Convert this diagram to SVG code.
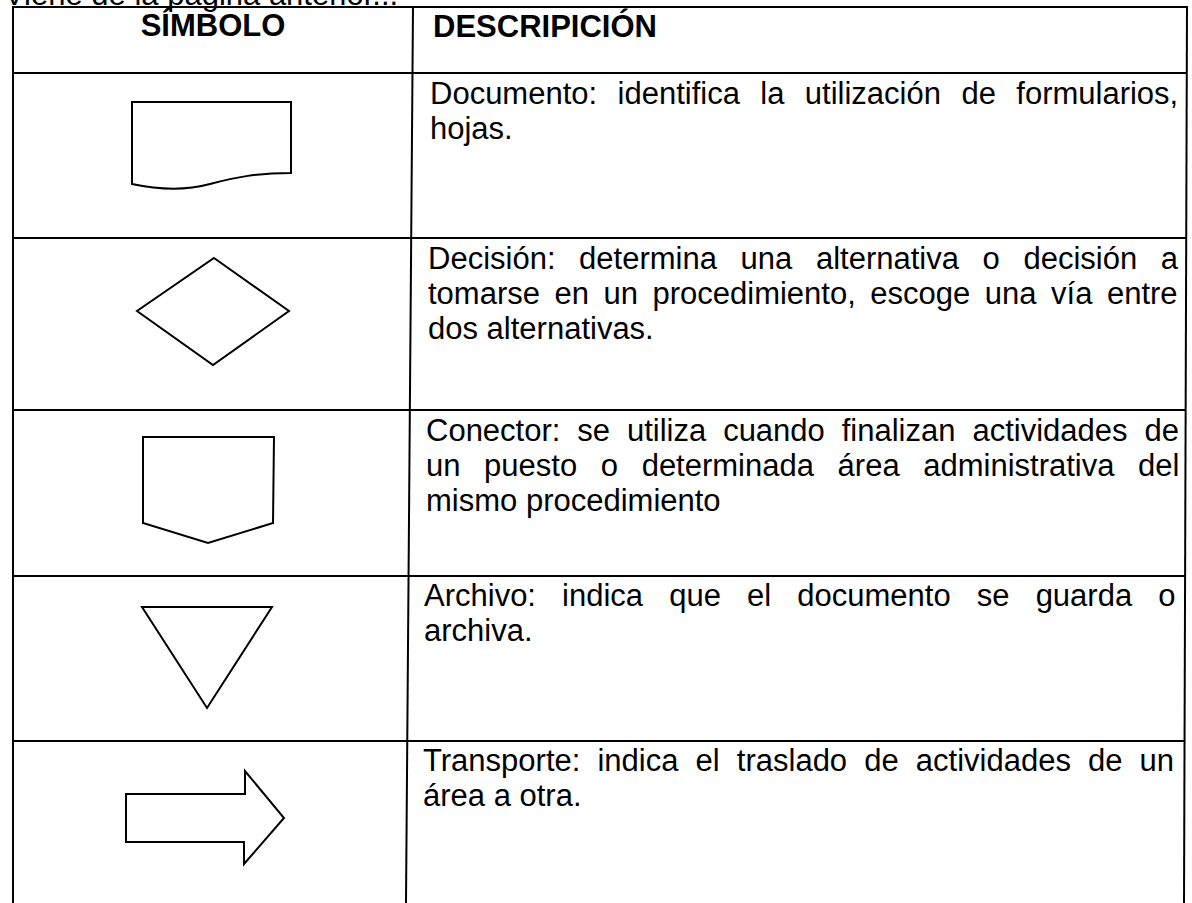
<svg xmlns="http://www.w3.org/2000/svg" width="1192" height="903" viewBox="0 0 1192 903">
<style>
.grid{stroke:#000;stroke-width:2;fill:none}
.shape{stroke:#000;stroke-width:2;fill:none;stroke-linejoin:miter}
.hd{font-family:"Liberation Sans",Arial,sans-serif;font-weight:bold;font-size:31px;fill:#000}
.tx{font-family:"Liberation Sans",Arial,sans-serif;font-size:31px;fill:#000}
</style>
<rect width="1192" height="903" fill="#fff"/>
<text class="tx" x="4" y="5" font-size="28">Viene de la página anterior...</text>
<g id="table">
<line class="grid" x1="13" y1="7" x2="1187" y2="7"/>
<line class="grid" x1="13" y1="73" x2="1187" y2="73"/>
<line class="grid" x1="13" y1="238" x2="1186" y2="238"/>
<line class="grid" x1="13" y1="410" x2="1186" y2="410"/>
<line class="grid" x1="13" y1="576" x2="1185" y2="576"/>
<line class="grid" x1="13" y1="741" x2="1185" y2="741"/>
<line class="grid" x1="13" y1="6" x2="13" y2="903"/>
<line class="grid" x1="413" y1="6" x2="406" y2="903"/>
<line class="grid" x1="1187" y1="6" x2="1184" y2="903"/>
</g>
<g id="header">
<text class="hd" x="213" y="36" text-anchor="middle">SÍMBOLO</text>
<text class="hd" x="433" y="37">DESCRIPICIÓN</text>
</g>
<g id="documento">
<path class="shape" d="M132,102 H291 V173 C258,173 236,177 210,184 C188,190 160,190 132,184 Z"/>
<text class="tx" x="430" y="104" word-spacing="11.8">Documento: identifica la utilización de formularios,</text>
<text class="tx" x="430" y="139">hojas.</text>
</g>
<g id="decision">
<polygon class="shape" points="214,258 289,311 213,365 137,311"/>
<text class="tx" x="428" y="269" word-spacing="15">Decisión: determina una alternativa o decisión a</text>
<text class="tx" x="428" y="304" word-spacing="5.9">tomarse en un procedimiento, escoge una vía entre</text>
<text class="tx" x="428" y="339">dos alternativas.</text>
</g>
<g id="conector">
<polygon class="shape" points="143,437 274,437 273,523 208,543 143,523"/>
<text class="tx" x="426" y="441" word-spacing="8.3">Conector: se utiliza cuando finalizan actividades de</text>
<text class="tx" x="426" y="476" word-spacing="15">un puesto o determinada área administrativa del</text>
<text class="tx" x="426" y="511">mismo procedimiento</text>
</g>
<g id="archivo">
<polygon class="shape" points="142,607 272,607 207,708"/>
<text class="tx" x="424" y="606" word-spacing="17.5">Archivo: indica que el documento se guarda o</text>
<text class="tx" x="424" y="641">archiva.</text>
</g>
<g id="transporte">
<polygon class="shape" points="126,794 245,794 245,771 284,818 244,864 244,842 126,842"/>
<text class="tx" x="423" y="771" word-spacing="8.5">Transporte: indica el traslado de actividades de un</text>
<text class="tx" x="423" y="806">área a otra.</text>
</g>
</svg>
